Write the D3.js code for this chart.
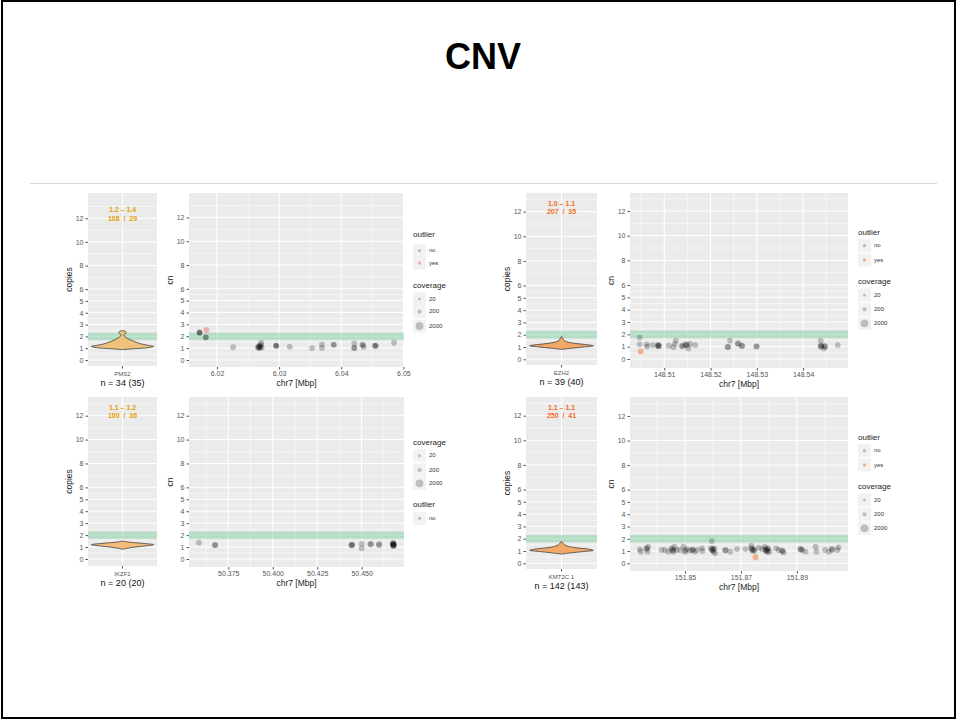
<!DOCTYPE html>
<html>
<head>
<meta charset="utf-8">
<script src="https://cdn.jsdelivr.net/npm/d3@7"></script>
<style>
  body { margin: 0; background: #fff; }
  text { font-family: "Liberation Sans", Arial, sans-serif; }
</style>
</head>
<body>
<div class="slide"></div>
<script>

// ---- chart values ----
var genes = ["PMS2", "EZH2", "IKZF1", "KMT2C.1"];
var nLabels = ["n = 34 (35)", "n = 39 (40)", "n = 20 (20)", "n = 142 (143)"];
var rangeLabels = ["1.2 \u2013 1.4", "1.0 \u2013 1.1", "1.1 \u2013 1.2", "1.1 \u2013 1.1"];
var countLabels = ["108  /  29", "207  /  35", "100  /  36", "250  /  41"];

var yTicks = [0, 1, 2, 3, 4, 5, 6, 8, 10, 12];
var yMinor = [0.5, 1.5, 2.5, 3.5, 4.5, 5.5, 7, 9, 11, 13];
var normalBand = [1.7, 2.3];
var coverageKeys = [20, 200, 2000];
var outlierKeys = ["no", "yes"];

// x ticks (Mbp) per gene
var pms2Ticks = [6.02, 6.03, 6.04, 6.05];
var pms2Minor = [6.015, 6.025, 6.035, 6.045];
var ezh2Ticks = [148.51, 148.52, 148.53, 148.54];
var ezh2Minor = [148.505, 148.515, 148.525, 148.535, 148.545];
var ikzf1Ticks = [50.375, 50.400, 50.425, 50.450];
var ikzf1Minor = [50.3625, 50.3875, 50.4125, 50.4375, 50.4625];
var kmt2cTicks = [151.85, 151.87, 151.89];
var kmt2cMinor = [151.84, 151.86, 151.88, 151.90];

// violin outlines: [copies, relative half width]
var pms2Violin = [[0.88, 0], [0.95, 0.35], [1.05, 0.85], [1.15, 1.0], [1.25, 0.8], [1.4, 0.55],
  [1.6, 0.35], [1.8, 0.18], [2.0, 0.07], [2.15, 0.05], [2.25, 0.1], [2.35, 0.12], [2.45, 0.07], [2.5, 0]];
var ezh2Violin = [[0.8, 0], [0.9, 0.3], [1.0, 0.7], [1.1, 1.0], [1.2, 0.75], [1.3, 0.4], [1.4, 0.2],
  [1.5, 0.1], [1.6, 0.06], [1.75, 0.03], [1.85, 0]];
var ikzf1Violin = [[0.82, 0], [0.9, 0.15], [1.0, 0.4], [1.1, 0.75], [1.2, 1.0], [1.3, 0.7], [1.4, 0.25], [1.5, 0]];
var kmt2cViolin = [[0.75, 0], [0.85, 0.3], [0.95, 0.65], [1.05, 1.0], [1.15, 0.85], [1.25, 0.5], [1.35, 0.25],
  [1.5, 0.1], [1.65, 0.04], [1.8, 0]];

// segments: [position Mbp, cn, coverage, outlier(1 = yes)]
var pms2Points = [
  [6.0172, 2.3, 800, 0], [6.0172, 2.35, 700, 0], [6.0172, 2.28, 600, 0],
  [6.0183, 2.53, 800, 1],
  [6.0182, 1.9, 800, 0], [6.0182, 1.92, 700, 0],
  [6.0226, 1.07, 800, 0],
  [6.0266, 1.05, 900, 0], [6.0267, 1.15, 800, 0], [6.0268, 1.0, 800, 0], [6.0268, 1.08, 800, 0],
  [6.0269, 1.2, 1000, 0], [6.027, 1.1, 900, 0], [6.0271, 1.45, 800, 0], [6.0271, 1.3, 700, 0], [6.0272, 1.05, 800, 0],
  [6.0295, 1.2, 800, 0], [6.0295, 1.22, 700, 0], [6.0296, 1.18, 600, 0],
  [6.0317, 1.12, 800, 0],
  [6.0353, 1.0, 800, 0],
  [6.0369, 1.32, 800, 0], [6.0369, 1.02, 800, 0],
  [6.0388, 1.3, 800, 0], [6.0388, 1.28, 700, 0],
  [6.0421, 1.4, 800, 0], [6.0421, 1.0, 800, 0], [6.0421, 1.02, 700, 0],
  [6.0434, 1.3, 800, 0], [6.0435, 1.25, 700, 0], [6.0436, 1.1, 800, 0],
  [6.0454, 1.2, 800, 0], [6.0455, 1.22, 700, 0], [6.0456, 1.18, 700, 0],
  [6.0485, 1.45, 800, 0]
];

var ezh2Points = [
  [148.5047, 1.73, 800, 0], [148.5047, 1.19, 800, 0], [148.5049, 0.62, 800, 1],
  [148.5062, 1.19, 800, 0], [148.5063, 1.0, 700, 0], [148.5075, 1.13, 800, 0],
  [148.5086, 1.08, 900, 0], [148.5087, 1.13, 900, 0], [148.5088, 1.03, 900, 0], [148.5088, 1.08, 800, 0],
  [148.511, 1.08, 800, 0], [148.512, 0.95, 800, 0], [148.5123, 1.22, 700, 0], [148.5125, 1.49, 800, 0],
  [148.5138, 1.08, 800, 0], [148.5139, 1.02, 700, 0], [148.5145, 1.13, 900, 0],
  [148.5148, 1.19, 900, 0], [148.5149, 1.1, 800, 0], [148.5152, 0.86, 800, 0], [148.5156, 1.22, 800, 0],
  [148.5167, 1.13, 800, 0],
  [148.5237, 0.95, 900, 0], [148.5238, 1.0, 800, 0], [148.5242, 1.49, 800, 0],
  [148.5259, 1.27, 900, 0], [148.526, 1.22, 800, 0], [148.5268, 1.05, 900, 0], [148.5268, 1.08, 800, 0],
  [148.5299, 1.0, 900, 0], [148.53, 1.05, 800, 0],
  [148.5438, 1.49, 800, 0], [148.5438, 1.0, 900, 0], [148.5439, 1.13, 800, 0], [148.5439, 1.05, 800, 0],
  [148.5445, 0.86, 800, 0], [148.5447, 1.05, 900, 0], [148.5447, 1.0, 800, 0],
  [148.5475, 1.13, 800, 0]
];

var ikzf1Points = [
  [50.3585, 1.37, 800, 0], [50.3675, 1.17, 900, 0], [50.3676, 1.15, 800, 0],
  [50.4444, 1.17, 900, 0], [50.4444, 1.15, 900, 0], [50.4445, 1.19, 800, 0],
  [50.45, 1.26, 800, 0], [50.45, 0.89, 800, 0],
  [50.455, 1.26, 900, 0], [50.4551, 1.24, 800, 0],
  [50.4598, 1.26, 900, 0], [50.4598, 1.15, 800, 0],
  [50.4678, 1.3, 1000, 0], [50.4678, 1.1, 1000, 0], [50.4679, 1.2, 1000, 0], [50.4677, 1.25, 900, 0],
  [50.468, 1.15, 900, 0], [50.4676, 1.32, 800, 0], [50.4679, 1.12, 900, 0], [50.4678, 1.22, 900, 0]
];

var kmt2cPoints = [
  [151.8338, 1.13, 800, 0], [151.8342, 0.95, 800, 0], [151.8362, 1.22, 900, 0], [151.8363, 1.16, 900, 0],
  [151.8366, 0.95, 800, 0], [151.8368, 1.35, 800, 0],
  [151.8416, 1.08, 800, 0], [151.8428, 1.08, 800, 0], [151.844, 0.95, 800, 0], [151.8452, 1.22, 900, 0],
  [151.8453, 1.08, 1000, 0], [151.8458, 0.95, 900, 0], [151.8458, 1.1, 900, 0], [151.8462, 1.35, 800, 0],
  [151.847, 1.08, 800, 0], [151.8482, 1.08, 800, 0], [151.8494, 1.35, 800, 0], [151.85, 0.95, 900, 0],
  [151.8501, 1.05, 900, 0], [151.8506, 1.16, 800, 0], [151.8518, 1.05, 800, 0], [151.8526, 1.08, 900, 0],
  [151.8527, 1.12, 900, 0], [151.8534, 0.95, 800, 0], [151.8542, 1.08, 800, 0], [151.856, 1.22, 800, 0],
  [151.8562, 1.0, 800, 0],
  [151.8593, 1.22, 1000, 0], [151.8596, 1.81, 800, 0], [151.8597, 1.1, 1000, 0], [151.8598, 1.08, 1000, 0],
  [151.86, 1.16, 900, 0], [151.8602, 0.95, 800, 0], [151.8605, 1.2, 900, 0], [151.8608, 0.81, 800, 0],
  [151.8644, 1.08, 900, 0], [151.8645, 1.05, 900, 0], [151.8662, 0.95, 800, 0], [151.8686, 1.16, 800, 0],
  [151.8716, 1.16, 800, 0], [151.8737, 1.43, 900, 0], [151.8738, 1.22, 1000, 0], [151.874, 1.16, 1000, 0],
  [151.8741, 1.05, 1000, 0], [151.8746, 1.0, 900, 0], [151.8748, 1.1, 900, 0], [151.8752, 0.49, 800, 1],
  [151.8764, 1.27, 800, 0], [151.8776, 1.16, 800, 0], [151.8785, 1.35, 900, 0], [151.8788, 1.08, 1000, 0],
  [151.879, 1.16, 1000, 0], [151.8792, 1.0, 1000, 0], [151.8794, 0.95, 900, 0], [151.8795, 1.1, 1000, 0],
  [151.8797, 1.22, 900, 0], [151.8802, 0.95, 800, 0],
  [151.8826, 1.22, 800, 0], [151.8835, 1.08, 800, 0], [151.8847, 1.05, 900, 0], [151.8848, 0.98, 900, 0],
  [151.8853, 0.89, 800, 0],
  [151.8913, 1.16, 900, 0], [151.8914, 1.12, 900, 0], [151.8919, 1.08, 800, 0], [151.8931, 0.95, 800, 0],
  [151.8967, 1.35, 800, 0], [151.897, 0.95, 800, 0],
  [151.9001, 1.08, 800, 0], [151.9015, 0.95, 800, 0], [151.9025, 1.16, 900, 0], [151.9026, 1.1, 900, 0],
  [151.9045, 1.08, 800, 0], [151.9049, 1.3, 800, 0]
];

// ---- page layout (pixels) ----
var width = 957, height = 720;

var panels = [
  { gene: 0, violin: pms2Violin, points: pms2Points, ticks: pms2Ticks, minor: pms2Minor, fmt: ".2f",
    vx: [88, 157], vy: [193, 366], vy0: 360, vy12: 218.3,
    sx: [189, 404], sy: [193, 367], sy0: 360, sy12: 217.5, xDom: [6.0155, 6.0501],
    violinFill: "#eec27a", textColor: "#e5a000", outColor: "#f4858a",
    legX: 413, legend: [["outlier", 235, [250.7, 263]], ["coverage", 285.7, [299, 311.7, 326]]] },
  { gene: 1, violin: ezh2Violin, points: ezh2Points, ticks: ezh2Ticks, minor: ezh2Minor, fmt: ".2f",
    vx: [526, 597], vy: [193, 365], vy0: 359.3, vy12: 211.7,
    sx: [630, 848], sy: [193, 368], sy0: 359, sy12: 211, xDom: [148.5026, 148.5497],
    violinFill: "#f3a868", textColor: "#f26b1d", outColor: "#f3844d",
    legX: 858, legend: [["outlier", 233.3, [245.7, 260]], ["coverage", 282.3, [295, 309.3, 323.3]]] },
  { gene: 2, violin: ikzf1Violin, points: ikzf1Points, ticks: ikzf1Ticks, minor: ikzf1Minor, fmt: ".3f",
    vx: [88, 157], vy: [397, 566], vy0: 559, vy12: 415.7,
    sx: [189, 404], sy: [397, 567], sy0: 559, sy12: 415.7, xDom: [50.3529, 50.4738],
    violinFill: "#f2bd7a", textColor: "#e5a000", outColor: "#f4858a",
    legX: 413, legend: [["coverage", 443.3, [455.7, 470, 483.3]], ["outlier", 505, [518.3]]] },
  { gene: 3, violin: kmt2cViolin, points: kmt2cPoints, ticks: kmt2cTicks, minor: kmt2cMinor, fmt: ".2f",
    vx: [526, 597], vy: [397, 569], vy0: 563.3, vy12: 415.7,
    sx: [630, 848], sy: [397, 571], sy0: 563.3, sy12: 416, xDom: [151.8303, 151.9083],
    violinFill: "#f3a868", textColor: "#f26b1d", outColor: "#f3844d",
    legX: 858, legend: [["outlier", 437.7, [450.7, 465]], ["coverage", 487.3, [500, 514.3, 528.3]]] }
];

var svg = d3.select(".slide")
  .append("svg")
    .attr("width", width)
    .attr("height", height);

// Slide frame, title and separator
svg.append("rect")
  .attr("x", 2).attr("y", 1)
  .attr("width", width - 4).attr("height", height - 3)
  .style("fill", "#fff")
  .style("stroke", "#000")
  .style("stroke-width", 2);

svg.append("text")
  .attr("x", 483).attr("y", 69)
  .attr("text-anchor", "middle")
  .style("font-size", "36px")
  .style("font-weight", "bold")
  .text("CNV");

svg.append("line")
  .attr("x1", 30).attr("x2", 937)
  .attr("y1", 183.5).attr("y2", 183.5)
  .style("stroke", "#d9d9d9")
  .style("stroke-width", 1);

var radius = d3.scaleSqrt().domain([20, 2000]).range([1.5, 3.9]);

panels.forEach(drawPanel);

function drawYAxis(g, y, x0, x1, top, bottom, title, titleX) {

    // Grey panel background
    g.append("rect")
      .attr("x", x0).attr("y", top)
      .attr("width", x1 - x0).attr("height", bottom - top)
      .style("fill", "#ebebeb");

    // Minor and major horizontal grid
    g.selectAll(".yminor")
      .data(yMinor.filter(function(d) { return y(d) > top && y(d) < bottom; }))
      .enter().append("line")
      .attr("x1", x0).attr("x2", x1)
      .attr("y1", function(d) { return y(d); })
      .attr("y2", function(d) { return y(d); })
      .style("stroke", "#fff").style("stroke-width", 0.5);

    g.selectAll(".ymajor")
      .data(yTicks)
      .enter().append("line")
      .attr("x1", x0).attr("x2", x1)
      .attr("y1", function(d) { return y(d); })
      .attr("y2", function(d) { return y(d); })
      .style("stroke", "#fff").style("stroke-width", 1);

    // Left axis: ticks and labels
    var axis = g.append("g")
      .attr("transform", "translate(" + x0 + ",0)")
      .call(d3.axisLeft(y).tickValues(yTicks).tickSize(2.5).tickPadding(2));
    axis.select(".domain").remove();
    axis.selectAll("line").style("stroke", "#555");
    axis.selectAll("text")
      .style("font-size", "7px")
      .style("fill", "#555")
      .style("font-family", "Liberation Sans, Arial, sans-serif");

    g.append("text")
      .attr("transform", "translate(" + titleX + "," + ((top + bottom) / 2) + ") rotate(-90)")
      .attr("text-anchor", "middle")
      .attr("dominant-baseline", "middle")
      .style("font-size", "8.5px")
      .style("fill", "#222")
      .text(title);
}

function drawPanel(p) {
    var g = svg.append("g");
    var gi = p.gene;

    // ---------- violin panel ----------
    var yv = d3.scaleLinear().domain([0, 12]).range([p.vy0, p.vy12]);
    drawYAxis(g, yv, p.vx[0], p.vx[1], p.vy[0], p.vy[1], "copies", p.vx[0] - 18);

    var cx = (p.vx[0] + p.vx[1]) / 2;
    g.append("line")
      .attr("x1", cx).attr("x2", cx)
      .attr("y1", p.vy[0]).attr("y2", p.vy[1])
      .style("stroke", "#fff").style("stroke-width", 1);

    g.append("rect")
      .attr("x", p.vx[0])
      .attr("width", p.vx[1] - p.vx[0])
      .attr("y", yv(normalBand[1]))
      .attr("height", yv(normalBand[0]) - yv(normalBand[1]))
      .style("fill", "#7fcfa0").style("opacity", 0.5);

    var half = d3.scaleLinear().domain([0, 1]).range([0, (p.vx[1] - p.vx[0]) / 2 * 0.9]);
    var area = d3.area()
      .curve(d3.curveCatmullRom)
      .y(function(d) { return yv(d[0]); })
      .x0(function(d) { return cx - half(d[1]); })
      .x1(function(d) { return cx + half(d[1]); });

    g.append("path")
      .datum(p.violin)
      .attr("d", area)
      .style("fill", p.violinFill)
      .style("stroke", "#3d3d3d")
      .style("stroke-width", 0.8);

    g.append("text")
      .attr("x", cx).attr("y", yv(12.65))
      .attr("text-anchor", "middle").attr("dominant-baseline", "middle")
      .style("font-size", "7px").style("font-weight", "bold")
      .style("fill", p.textColor)
      .text(rangeLabels[gi]);

    g.append("text")
      .attr("x", cx).attr("y", yv(11.95))
      .attr("text-anchor", "middle").attr("dominant-baseline", "middle")
      .style("font-size", "7px").style("font-weight", "bold")
      .style("fill", p.textColor)
      .style("white-space", "pre")
      .text(countLabels[gi]);

    g.append("line")
      .attr("x1", cx).attr("x2", cx)
      .attr("y1", p.vy[1]).attr("y2", p.vy[1] + 2.5)
      .style("stroke", "#555");

    g.append("text")
      .attr("x", cx).attr("y", p.vy[1] + 8)
      .attr("text-anchor", "middle").attr("dominant-baseline", "middle")
      .style("font-size", "6px").style("fill", "#555")
      .text(genes[gi]);

    g.append("text")
      .attr("x", cx).attr("y", p.vy[1] + 18)
      .attr("text-anchor", "middle").attr("dominant-baseline", "middle")
      .style("font-size", "9px").style("fill", "#111")
      .text(nLabels[gi]);

    // ---------- scatter panel ----------
    var ys = d3.scaleLinear().domain([0, 12]).range([p.sy0, p.sy12]);
    var xs = d3.scaleLinear().domain(p.xDom).range(p.sx);
    drawYAxis(g, ys, p.sx[0], p.sx[1], p.sy[0], p.sy[1], "cn", p.sx[0] - 18);

    g.selectAll(".xminor")
      .data(p.minor.filter(function(d) { return xs(d) > p.sx[0] && xs(d) < p.sx[1]; }))
      .enter().append("line")
      .attr("x1", function(d) { return xs(d); })
      .attr("x2", function(d) { return xs(d); })
      .attr("y1", p.sy[0]).attr("y2", p.sy[1])
      .style("stroke", "#fff").style("stroke-width", 0.5);

    g.selectAll(".xmajor")
      .data(p.ticks)
      .enter().append("line")
      .attr("x1", function(d) { return xs(d); })
      .attr("x2", function(d) { return xs(d); })
      .attr("y1", p.sy[0]).attr("y2", p.sy[1])
      .style("stroke", "#fff").style("stroke-width", 1);

    g.append("rect")
      .attr("x", p.sx[0])
      .attr("width", p.sx[1] - p.sx[0])
      .attr("y", ys(normalBand[1]))
      .attr("height", ys(normalBand[0]) - ys(normalBand[1]))
      .style("fill", "#7fcfa0").style("opacity", 0.5);

    var xAxis = g.append("g")
      .attr("transform", "translate(0," + p.sy[1] + ")")
      .call(d3.axisBottom(xs).tickValues(p.ticks).tickFormat(d3.format(p.fmt)).tickSize(2.5).tickPadding(2));
    xAxis.select(".domain").remove();
    xAxis.selectAll("line").style("stroke", "#555");
    xAxis.selectAll("text")
      .style("font-size", "7px")
      .style("fill", "#555")
      .style("font-family", "Liberation Sans, Arial, sans-serif");

    g.append("text")
      .attr("x", (p.sx[0] + p.sx[1]) / 2).attr("y", p.sy[1] + 17)
      .attr("text-anchor", "middle").attr("dominant-baseline", "middle")
      .style("font-size", "8.5px").style("fill", "#222")
      .text("chr7 [Mbp]");

    // Segment points, regular first and outliers on top
    var pts = p.points.slice().sort(function(a, b) { return a[3] - b[3]; });
    g.selectAll(".seg")
      .data(pts)
      .enter().append("circle")
      .attr("cx", function(d) { return xs(d[0]); })
      .attr("cy", function(d) { return ys(d[1]); })
      .attr("r", function(d) { return radius(d[2]); })
      .style("fill", function(d) { return d[3] ? p.outColor : "#000"; })
      .style("fill-opacity", function(d) { return d[3] ? 0.6 : 0.22; });

    // ---------- legend ----------
    var hasYes = p.points.some(function(d) { return d[3] === 1; });
    p.legend.forEach(function(grp) {
        g.append("text")
          .attr("x", p.legX).attr("y", grp[1])
          .attr("dominant-baseline", "middle")
          .style("font-size", "8px").style("fill", "#222")
          .text(grp[0]);

        var keys = grp[0] === "outlier" ? outlierKeys.slice(0, hasYes ? 2 : 1) : coverageKeys;
        keys.forEach(function(k, i) {
            var ky = grp[2][i];
            g.append("rect")
              .attr("x", p.legX).attr("y", ky - 6.5)
              .attr("width", 13).attr("height", 13)
              .style("fill", "#f2f2f2");
            g.append("circle")
              .attr("cx", p.legX + 6.5).attr("cy", ky)
              .attr("r", grp[0] === "outlier" ? radius(200) * 0.8 : radius(k))
              .style("fill", grp[0] === "outlier" && k === "yes" ? p.outColor : "#000")
              .style("fill-opacity", grp[0] === "outlier" && k === "yes" ? 0.6 : 0.22);
            g.append("text")
              .attr("x", p.legX + 16).attr("y", ky)
              .attr("dominant-baseline", "middle")
              .style("font-size", "6px").style("fill", "#333")
              .text(k);
        });
    });
}
</script>
</body>
</html>
